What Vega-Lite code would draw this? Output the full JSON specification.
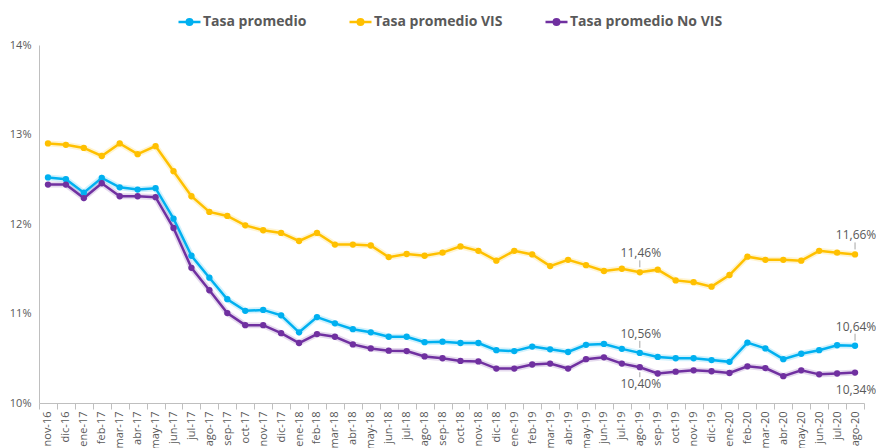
{
  "$schema": "https://vega.github.io/schema/vega-lite/v6.json",
  "width": 825,
  "height": 358,
  "autosize": {"type": "none"},
  "padding": {"left": 39, "top": 45, "right": 12, "bottom": 45},
  "background": "white",
  "config": {
    "view": {"stroke": null},
    "font": "Open Sans",
    "axis": {"labelColor": "#595959", "labelFontSize": 11, "domainColor": "#bfbfbf", "tickColor": "#bfbfbf", "grid": false, "title": null}
  },
  "data": {
    "values": [
      {"mes": "nov-16", "p": 12.52, "v": 12.90, "n": 12.44},
      {"mes": "dic-16", "p": 12.50, "v": 12.885, "n": 12.44},
      {"mes": "ene-17", "p": 12.35, "v": 12.85, "n": 12.29},
      {"mes": "feb-17", "p": 12.515, "v": 12.76, "n": 12.455},
      {"mes": "mar-17", "p": 12.41, "v": 12.90, "n": 12.31},
      {"mes": "abr-17", "p": 12.385, "v": 12.78, "n": 12.31},
      {"mes": "may-17", "p": 12.40, "v": 12.87, "n": 12.30},
      {"mes": "jun-17", "p": 12.06, "v": 12.59, "n": 11.955},
      {"mes": "jul-17", "p": 11.645, "v": 12.31, "n": 11.51},
      {"mes": "ago-17", "p": 11.40, "v": 12.135, "n": 11.26},
      {"mes": "sep-17", "p": 11.16, "v": 12.09, "n": 11.005},
      {"mes": "oct-17", "p": 11.03, "v": 11.985, "n": 10.87},
      {"mes": "nov-17", "p": 11.04, "v": 11.93, "n": 10.87},
      {"mes": "dic-17", "p": 10.98, "v": 11.90, "n": 10.78},
      {"mes": "ene-18", "p": 10.79, "v": 11.81, "n": 10.67},
      {"mes": "feb-18", "p": 10.96, "v": 11.90, "n": 10.77},
      {"mes": "mar-18", "p": 10.89, "v": 11.77, "n": 10.74},
      {"mes": "abr-18", "p": 10.825, "v": 11.77, "n": 10.655},
      {"mes": "may-18", "p": 10.79, "v": 11.76, "n": 10.61},
      {"mes": "jun-18", "p": 10.74, "v": 11.63, "n": 10.585},
      {"mes": "jul-18", "p": 10.74, "v": 11.665, "n": 10.58},
      {"mes": "ago-18", "p": 10.68, "v": 11.645, "n": 10.52},
      {"mes": "sep-18", "p": 10.685, "v": 11.68, "n": 10.50},
      {"mes": "oct-18", "p": 10.67, "v": 11.75, "n": 10.47},
      {"mes": "nov-18", "p": 10.67, "v": 11.70, "n": 10.465},
      {"mes": "dic-18", "p": 10.59, "v": 11.59, "n": 10.385},
      {"mes": "ene-19", "p": 10.58, "v": 11.70, "n": 10.385},
      {"mes": "feb-19", "p": 10.63, "v": 11.66, "n": 10.43},
      {"mes": "mar-19", "p": 10.60, "v": 11.53, "n": 10.44},
      {"mes": "abr-19", "p": 10.57, "v": 11.60, "n": 10.385},
      {"mes": "may-19", "p": 10.65, "v": 11.54, "n": 10.49},
      {"mes": "jun-19", "p": 10.66, "v": 11.475, "n": 10.51},
      {"mes": "jul-19", "p": 10.605, "v": 11.50, "n": 10.44},
      {"mes": "ago-19", "p": 10.56, "v": 11.46, "n": 10.40},
      {"mes": "sep-19", "p": 10.515, "v": 11.49, "n": 10.33},
      {"mes": "oct-19", "p": 10.50, "v": 11.37, "n": 10.35},
      {"mes": "nov-19", "p": 10.50, "v": 11.35, "n": 10.365},
      {"mes": "dic-19", "p": 10.48, "v": 11.30, "n": 10.355},
      {"mes": "ene-20", "p": 10.46, "v": 11.43, "n": 10.335},
      {"mes": "feb-20", "p": 10.675, "v": 11.635, "n": 10.41},
      {"mes": "mar-20", "p": 10.61, "v": 11.60, "n": 10.39},
      {"mes": "abr-20", "p": 10.49, "v": 11.60, "n": 10.30},
      {"mes": "may-20", "p": 10.55, "v": 11.59, "n": 10.365},
      {"mes": "jun-20", "p": 10.59, "v": 11.70, "n": 10.32},
      {"mes": "jul-20", "p": 10.645, "v": 11.68, "n": 10.33},
      {"mes": "ago-20", "p": 10.64, "v": 11.66, "n": 10.34}
    ]
  },
  "transform": [
    {"fold": ["p", "v", "n"], "as": ["serie", "tasa"]},
    {"calculate": "replace(format(datum.tasa, '.2f'), '.', ',') + '%'", "as": "etiqueta"}
  ],
  "encoding": {
    "x": {
      "field": "mes", "type": "nominal", "sort": null, "bandPosition": 0.5,
      "scale": {"type": "band", "paddingInner": 0, "paddingOuter": 0},
      "axis": {"labelAngle": -90, "tickBand": "extent", "tickSize": 6, "labelPadding": 2}
    },
    "y": {
      "field": "tasa", "type": "quantitative",
      "scale": {"domain": [10, 14], "nice": false, "zero": false},
      "axis": {"values": [10, 11, 12, 13, 14], "labelExpr": "datum.value + '%'", "ticks": false, "labelPadding": 8}
    }
  },
  "layer": [
    {
      "mark": {"type": "line", "strokeWidth": 6, "opacity": 0.18},
      "encoding": {
        "color": {"field": "serie", "type": "nominal", "scale": {"domain": ["p", "v", "n"], "range": ["#00B0F0", "#FFC000", "#7030A0"]}},
        "detail": {"field": "serie"}
      }
    },
    {
      "mark": {"type": "line", "strokeWidth": 2.5},
      "encoding": {
        "color": {
          "field": "serie", "type": "nominal",
          "scale": {"domain": ["p", "v", "n"], "range": ["#00B0F0", "#FFC000", "#7030A0"]},
          "legend": {
            "title": null, "orient": "none", "legendX": 138, "legendY": -36,
            "direction": "horizontal",
            "labelExpr": "datum.value == 'p' ? 'Tasa promedio' : datum.value == 'v' ? 'Tasa promedio VIS' : 'Tasa promedio No VIS'",
            "labelFont": "Open Sans", "labelFontWeight": "bold", "labelFontSize": 14, "labelColor": "#595959",
            "symbolType": "M-1,0H1M-0.25,0a0.25,0.25 0 1,0 0.5,0a0.25,0.25 0 1,0 -0.5,0",
            "symbolSize": 484, "symbolStrokeWidth": 2.5, "symbolOpacity": 1, "labelOffset": 1, "columnPadding": 37,
            "encode": {
              "symbols": {
                "update": {
                  "opacity": {"value": 1},
                  "strokeOpacity": {"value": 1},
                  "fillOpacity": {"value": 1},
                  "fill": {"scale": "color", "field": "value"},
                  "stroke": {"scale": "color", "field": "value"}
                }
              }
            }
          }
        }
      }
    },
    {
      "mark": {"type": "point", "filled": true, "size": 40, "opacity": 1},
      "encoding": {
        "color": {"field": "serie", "type": "nominal", "scale": {"domain": ["p", "v", "n"], "range": ["#00B0F0", "#FFC000", "#7030A0"]}}
      }
    },
    {
      "transform": [{"filter": "(datum.mes == 'ago-19' || datum.mes == 'ago-20') && datum.serie != 'n'"}],
      "mark": {"type": "text", "dy": -19, "fontSize": 12, "color": "#595959", "dx": 1},
      "encoding": {"text": {"field": "etiqueta"}}
    },
    {
      "transform": [{"filter": "(datum.mes == 'ago-19' || datum.mes == 'ago-20') && datum.serie == 'n'"}],
      "mark": {"type": "text", "dy": 17, "fontSize": 12, "color": "#595959", "dx": 1},
      "encoding": {"text": {"field": "etiqueta"}}
    },
    {
      "transform": [{"filter": "(datum.mes == 'ago-19' || datum.mes == 'ago-20') && datum.serie != 'n'"}],
      "mark": {"type": "rule", "color": "#a6a6a6", "strokeWidth": 1, "yOffset": -5, "y2Offset": -12},
      "encoding": {"y2": {"field": "tasa"}}
    },
    {
      "transform": [{"filter": "datum.mes == 'ago-19' && datum.serie == 'n'"}],
      "mark": {"type": "rule", "color": "#a6a6a6", "strokeWidth": 1, "yOffset": 5, "y2Offset": 10},
      "encoding": {"y2": {"field": "tasa"}}
    }
  ]
}
